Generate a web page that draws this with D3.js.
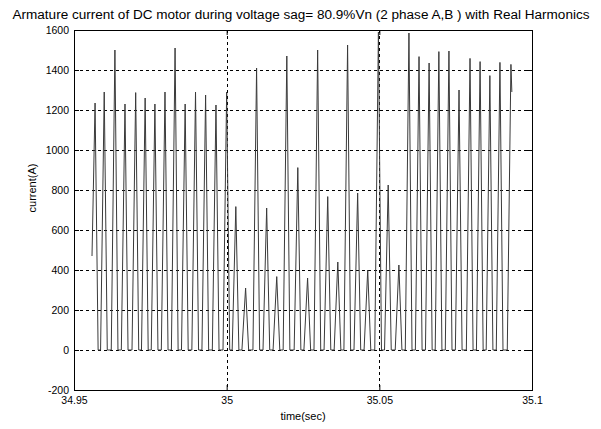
<!DOCTYPE html>
<html>
<head>
<meta charset="utf-8">
<script src="https://cdn.jsdelivr.net/npm/d3@7"></script>
<style>
  body { margin: 0; background: #fff; }
  text { font-family: "Liberation Sans", Arial, sans-serif; fill: #000; }
</style>
</head>
<body>
<svg class="chart" width="601" height="429"></svg>
<script>
"use strict";

// peaks of the armature current pulses
let peakTime = [
  34.9569, 34.9599, 34.9634, 34.9667, 34.9702, 34.9733, 34.9765, 34.9798,
  34.9831, 34.9864, 34.9898, 34.9931, 34.9965, 35.0000, 35.0030, 35.0062,
  35.0098, 35.0131, 35.0164, 35.0197, 35.0233, 35.0265, 35.0298, 35.0331,
  35.0364, 35.0396, 35.0429, 35.0462, 35.0497, 35.0529, 35.0564, 35.0597,
  35.0630, 35.0663, 35.0695, 35.0728, 35.0761, 35.0797, 35.0830, 35.0862,
  35.0895, 35.0931
];
let peakCurrent = [
  1235, 1290, 1500, 1230, 1287, 1260, 1230, 1290,
  1510, 1230, 1290, 1275, 1225, 1290, 717, 310,
  1410, 710, 367, 1470, 912, 360, 1500, 767,
  440, 1525, 785, 400, 1590, 825, 425, 1585,
  1467, 1435, 1492, 1495, 1300, 1458, 1442, 1372,
  1438, 1428
];
// where the trace begins and ends
let traceStart = [34.9559, 470];
let traceEnd = [35.0934, 1290];

let xTicks = [34.95, 35, 35.05, 35.1];
let yTicks = [-200, 0, 200, 400, 600, 800, 1000, 1200, 1400, 1600];

let svg = d3.select('.chart');

let padL = 74, padR = 532, padT = 30, padB = 390;

let x = d3.scaleLinear().domain([34.95, 35.1]).range([padL, padR]);
let y = d3.scaleLinear().domain([-200, 1600]).range([padB, padT]);

// pulse shape: rise from zero to the peak, drop back to zero
let rise = 0.0012, fall = 0.0010;
let points = [traceStart];
peakTime.forEach((t, i) => {
  if (i > 0) points.push([t - rise, 0]);
  points.push([t, peakCurrent[i]]);
  if (i < peakTime.length - 1) points.push([t + fall, 0]);
});
points.push(traceEnd);

// grid
let grid = svg.append('g')
  .attr('stroke', '#000')
  .attr('stroke-width', 1)
  .attr('stroke-dasharray', '3,3');

grid.selectAll('.gx')
  .data(xTicks.slice(1, -1))
  .enter()
  .append('line')
  .attr('x1', d => Math.round(x(d)) + 0.5)
  .attr('x2', d => Math.round(x(d)) + 0.5)
  .attr('y1', padT)
  .attr('y2', padB);

grid.selectAll('.gy')
  .data(yTicks.slice(1, -1))
  .enter()
  .append('line')
  .attr('x1', padL)
  .attr('x2', padR)
  .attr('y1', d => Math.round(y(d)) + 0.5)
  .attr('y2', d => Math.round(y(d)) + 0.5);

// the trace
svg.append('path')
  .datum(points)
  .attr('fill', 'none')
  .attr('stroke', '#3a3a3a')
  .attr('stroke-width', 1)
  .attr('d', d3.line().x(d => x(d[0])).y(d => y(d[1])));

// axes, MATLAB style ticks pointing inwards
let fmtX = d => String(+d.toFixed(2));
let fmtY = d => String(d);

svg.append('g')
  .attr('transform', 'translate(0,' + padB + ')')
  .call(d3.axisBottom(x).tickValues(xTicks).tickSize(-5).tickPadding(7).tickFormat(fmtX));
svg.append('g')
  .attr('transform', 'translate(0,' + padT + ')')
  .call(d3.axisTop(x).tickValues(xTicks).tickSize(-5).tickFormat(''));
svg.append('g')
  .attr('transform', 'translate(' + padL + ',0)')
  .call(d3.axisLeft(y).tickValues(yTicks).tickSize(-5).tickPadding(5).tickFormat(fmtY));
svg.append('g')
  .attr('transform', 'translate(' + padR + ',0)')
  .call(d3.axisRight(y).tickValues(yTicks).tickSize(-5).tickFormat(''));

svg.selectAll('.domain').attr('stroke', '#000');
svg.selectAll('.tick line').attr('stroke', '#000');
svg.selectAll('.tick text')
  .style('font-family', '"Liberation Sans", Arial, sans-serif')
  .style('font-size', '10.5px')
  .attr('fill', '#000');

svg.append('rect')
  .attr('x', padL + 0.5)
  .attr('y', padT + 0.5)
  .attr('width', padR - padL)
  .attr('height', padB - padT)
  .attr('fill', 'none')
  .attr('stroke', '#000');

// labels
svg.append('text')
  .attr('x', 301)
  .attr('y', 19)
  .attr('text-anchor', 'middle')
  .attr('textLength', 577)
  .attr('lengthAdjust', 'spacingAndGlyphs')
  .style('font-size', '12px')
  .text('Armature current of DC motor during voltage sag= 80.9%Vn (2 phase A,B ) with Real Harmonics');

svg.append('text')
  .attr('x', 303)
  .attr('y', 420)
  .attr('text-anchor', 'middle')
  .style('font-size', '11px')
  .text('time(sec)');

svg.append('text')
  .attr('transform', 'translate(36,188) rotate(-90)')
  .attr('text-anchor', 'middle')
  .style('font-size', '11px')
  .text('current(A)');
</script>
</body>
</html>
